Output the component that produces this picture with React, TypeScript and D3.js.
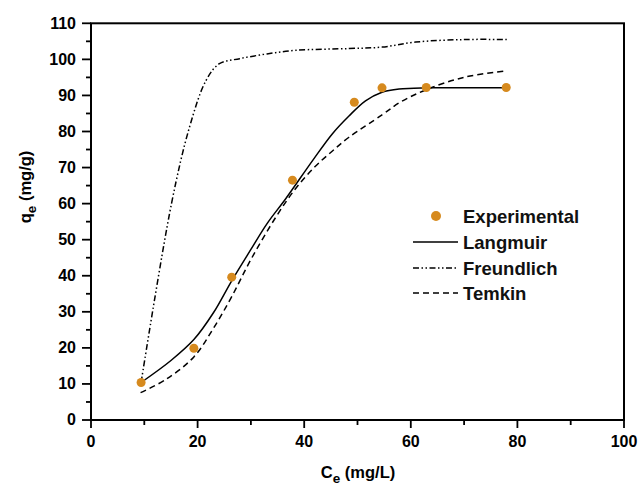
import React from "react";
import * as d3 from "d3";

const expX = [9.4, 19.3, 26.4, 37.8, 49.4, 54.6, 62.9, 77.9];
const expY = [10.4, 19.9, 39.6, 66.5, 88.1, 92.1, 92.2, 92.2];

const langX = [9.4, 15, 19.3, 23, 26.4, 30, 33, 36.6, 41.6, 45.3, 48.4, 51.5, 54.6, 57.8, 63, 70, 78];
const langY = [10.4, 16.5, 22.3, 29.8, 38.6, 47.3, 54.4, 61.5, 72, 79.4, 84.3, 88.5, 90.9, 91.8, 92.1, 92.1, 92.1];

const freX = [9.4, 15.1, 18.5, 21.6, 24.1, 27.9, 33, 38.4, 48.4, 54.6, 60.9, 70.2, 78];
const freY = [10.4, 60, 81.3, 94.2, 98.8, 100.2, 101.5, 102.5, 103, 103.4, 104.8, 105.5, 105.5];

const temX = [9.3, 14, 19.3, 23, 26.4, 30, 34.7, 38.4, 42, 45.3, 48.4, 54.6, 58, 62.9, 70.2, 77.9];
const temY = [7.6, 11.2, 17.5, 25.5, 34.2, 44.5, 56.3, 64.2, 70.2, 74.6, 78.4, 84.6, 88.1, 91.6, 95.1, 96.8];

const xTicks = [0, 20, 40, 60, 80, 100];
const yTicks = [0, 10, 20, 30, 40, 50, 60, 70, 80, 90, 100, 110];
const xMinor = [10, 30, 50, 70, 90];
const yMinor = [5, 15, 25, 35, 45, 55, 65, 75, 85, 95, 105];

const legendItems = ["Experimental", "Langmuir", "Freundlich", "Temkin"];

const FONT = "'Liberation Sans', Arial, sans-serif";
const ORANGE = "#d68a1e";

export default function App() {
  if (typeof document !== "undefined") document.body.style.margin = "0";
  const W = 640, H = 487;
  const x = d3.scaleLinear().domain([0, 100]).range([91, 624]);
  const y = d3.scaleLinear().domain([0, 110]).range([420, 23.3]);
  const line = d3.line<[number, number]>().x(d => x(d[0])).y(d => y(d[1])).curve(d3.curveCatmullRom.alpha(0.5));
  const zip = (a: number[], b: number[]) => a.map((v, i) => [v, b[i]] as [number, number]);

  const styles = [
    { dash: "none" },
    { dash: "6 2.5 1.5 2.5 1.5 2.5" },
    { dash: "6 4" },
  ];
  const curves = [zip(langX, langY), zip(freX, freY), zip(temX, temY)];
  const legY = [216, 242, 268, 293];

  return (
    <svg width={W} height={H} style={{ display: "block", background: "#fff" }}>
      <rect x={x(0)} y={y(110)} width={x(100) - x(0)} height={y(0) - y(110)} fill="none" stroke="#000" strokeWidth={2} />
      {xTicks.map(t => (
        <g key={"xt" + t}>
          <line x1={x(t)} x2={x(t)} y1={420} y2={428} stroke="#000" strokeWidth={1.8} />
          <text x={x(t)} y={447} textAnchor="middle" fontFamily={FONT} fontWeight="bold" fontSize={16}>{t}</text>
        </g>
      ))}
      {xMinor.map(t => (
        <line key={"xm" + t} x1={x(t)} x2={x(t)} y1={420} y2={425} stroke="#000" strokeWidth={1.8} />
      ))}
      {yTicks.map(t => (
        <g key={"yt" + t}>
          <line x1={82} x2={91} y1={y(t)} y2={y(t)} stroke="#000" strokeWidth={1.8} />
          <text x={76} y={y(t) + 5.4} textAnchor="end" fontFamily={FONT} fontWeight="bold" fontSize={16}>{t}</text>
        </g>
      ))}
      {yMinor.map(t => (
        <line key={"ym" + t} x1={86} x2={91} y1={y(t)} y2={y(t)} stroke="#000" strokeWidth={1.8} />
      ))}
      <text x={358} y={478} textAnchor="middle" fontFamily={FONT} fontWeight="bold" fontSize={16.5}>
        C<tspan fontSize={13.5} dy={5}>e</tspan><tspan dy={-5}> (mg/L)</tspan>
      </text>
      <text transform="translate(31,187) rotate(-90)" textAnchor="middle" fontFamily={FONT} fontWeight="bold" fontSize={16.5}>
        q<tspan fontSize={13.5} dy={5}>e</tspan><tspan dy={-5}> (mg/g)</tspan>
      </text>
      {curves.map((c, i) => (
        <path key={"c" + i} d={line(c) || ""} fill="none" stroke="#000" strokeWidth={1.5} strokeDasharray={styles[i].dash} />
      ))}
      {expX.map((v, i) => (
        <circle key={"p" + i} cx={x(v)} cy={y(expY[i])} r={4.5} fill={ORANGE} />
      ))}
      <circle cx={436} cy={legY[0]} r={5} fill={ORANGE} />
      {styles.map((s, i) => (
        <line key={"ll" + i} x1={413} x2={458} y1={legY[i + 1]} y2={legY[i + 1]} stroke="#000" strokeWidth={1.5} strokeDasharray={s.dash} />
      ))}
      {legendItems.map((t, i) => (
        <text key={"lt" + t} x={463} y={legY[i] + 6.5} fontFamily={FONT} fontWeight="bold" fontSize={18.5} fill="#111">{t}</text>
      ))}
    </svg>
  );
}
